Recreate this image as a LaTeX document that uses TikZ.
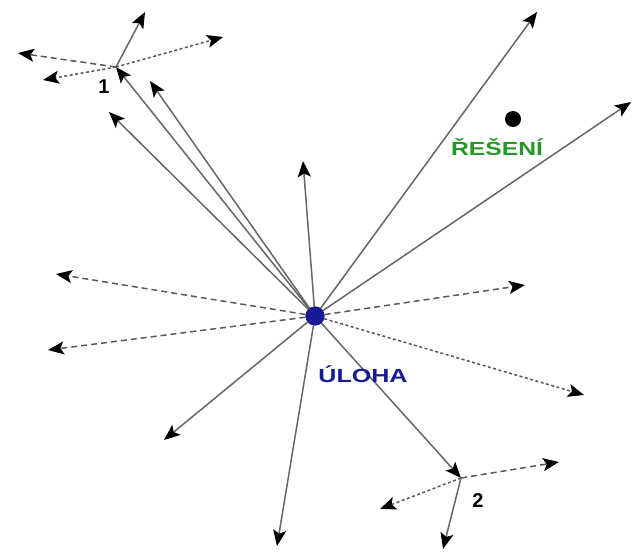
\documentclass[tikz,border=0pt]{standalone}
\usepackage{fontspec}
\setmainfont{Liberation Sans}
\usepackage{graphicx}
\usetikzlibrary{arrows.meta}
\definecolor{ublue}{RGB}{25,25,150}
\definecolor{rgreen}{RGB}{40,150,40}
\begin{document}
\begin{tikzpicture}[x=1pt,y=-1pt,
  tip/.style={-{Stealth[length=16pt,width=13pt,inset=3.5pt,color=black]}},
  sol/.style={tip, draw=black!60, line width=1.5pt},
  dsh/.style={tip, draw=black!65, line width=1.5pt, dash pattern=on 6pt off 4pt},
  dtd/.style={tip, draw=black!65, line width=1.5pt, dash pattern=on 3pt off 2.5pt},
  lbl/.style={font=\bfseries\fontsize{20}{20}\selectfont},
  bigdot/.style={circle, inner sep=0pt, minimum size=#1}]
\useasboundingbox (0,0) rectangle (635,557);
% centre and solution
\node[bigdot=19pt, fill=ublue] (U) at (315,316) {};
\node[bigdot=16pt, fill=black] (R) at (513,119) {};
% end points
\coordinate (p1) at (116,67);
\coordinate (p2) at (461,478);
\coordinate (e2) at (150,81);
\coordinate (e3) at (109,112);
\coordinate (e4) at (303,161);
\coordinate (e5) at (537,12);
\coordinate (e6) at (631,102);
\coordinate (e7) at (164,440);
\coordinate (e8) at (277,546);
\coordinate (d1) at (56,274);
\coordinate (d2) at (48,350);
\coordinate (d3) at (525,285);
\coordinate (d4) at (584,395);
\coordinate (a1) at (145,12);
\coordinate (a2) at (18,53);
\coordinate (a3) at (43,80);
\coordinate (a4) at (223,37);
\coordinate (b1) at (559,462);
\coordinate (b2) at (380,509);
\coordinate (b3) at (443,549);
% arrows from the centre
\draw[sol] (U) -- (p1);
\draw[sol] (U) -- (e2);
\draw[sol] (U) -- (e3);
\draw[sol] (U) -- (e4);
\draw[sol] (U) -- (e5);
\draw[sol] (U) -- (e6);
\draw[sol] (U) -- (e7);
\draw[sol] (U) -- (e8);
\draw[sol] (U) -- (p2);
\draw[dsh] (U) -- (d1);
\draw[dsh] (U) -- (d2);
\draw[dsh] (U) -- (d3);
\draw[dtd] (U) -- (d4);
% arrows from point 1
\draw[sol] (p1) -- (a1);
\draw[dsh] (p1) -- (a2);
\draw[dtd] (p1) -- (a3);
\draw[dtd] (p1) -- (a4);
% arrows from point 2
\draw[dsh] (p2) -- (b1);
\draw[dtd] (p2) -- (b2);
\draw[sol] (p2) -- (b3);
\node[bigdot=19pt, fill=ublue] at (U) {};
% labels
\node[lbl] (l1) at (104,87) {1};
\node[lbl] (l2) at (478,501) {2};
\node[font=\bfseries\fontsize{19}{19}\selectfont, text=ublue, anchor=base] (lu) at (363,382) {\scalebox{1.32}[1]{ÚLOHA}};
\node[font=\bfseries\fontsize{19}{19}\selectfont, text=rgreen, anchor=base] (lr) at (497,155) {\scalebox{1.3}[1]{ŘEŠENÍ}};
\end{tikzpicture}
\end{document}
